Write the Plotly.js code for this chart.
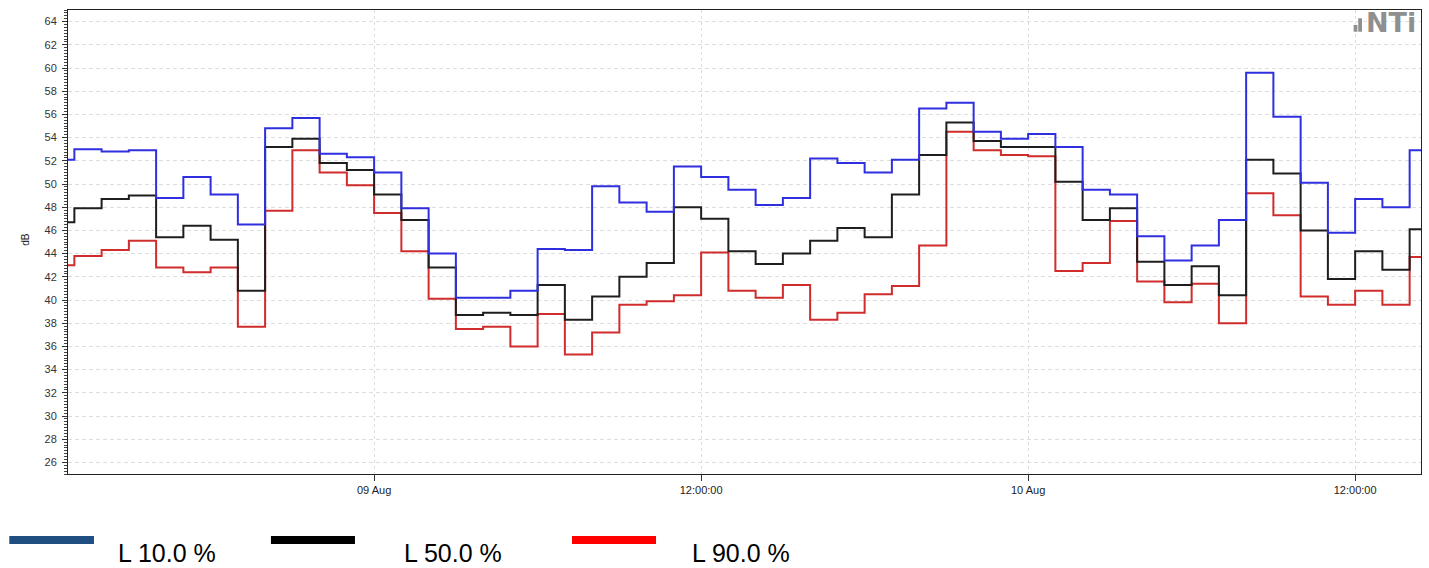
<!DOCTYPE html>
<html>
<head>
<meta charset="utf-8">
<script src="https://cdn.plot.ly/plotly-3.0.1.min.js"></script>
<style>
  html, body { margin: 0; padding: 0; background: #ffffff; }
  #chart { width: 1429px; height: 568px; }
</style>
</head>
<body>
<div id="chart"></div>
<script>
// ---- data (hourly values, first hour = 08 Aug 12:00) ----
const startHour = '2023-08-08T12:00:00Z';
const seriesNames = ['L 10.0 %', 'L 50.0 %', 'L 90.0 %'];
const L10 = [
  52.1, 53.0, 52.8, 52.9, 48.8, 50.6, 49.1, 46.5, 54.8, 55.7, 52.6, 52.3,
  51.0, 47.9, 44.0, 40.2, 40.2, 40.8, 44.4, 44.3, 49.8, 48.4, 47.6, 51.5,
  50.6, 49.5, 48.2, 48.8, 52.2, 51.8, 51.0, 52.1, 56.5, 57.0, 54.5, 53.9,
  54.3, 53.2, 49.5, 49.1, 45.5, 43.4, 44.7, 46.9, 59.6, 55.8, 50.1, 45.8,
  48.7, 48.0, 52.9
];
const L50 = [
  46.7, 47.9, 48.7, 49.0, 45.4, 46.4, 45.2, 40.8, 53.2, 53.9, 51.8, 51.2,
  49.1, 46.9, 42.8, 38.7, 38.9, 38.7, 41.3, 38.3, 40.3, 42.0, 43.2, 48.0,
  47.0, 44.2, 43.1, 44.0, 45.1, 46.2, 45.4, 49.1, 52.5, 55.3, 53.7, 53.2,
  53.2, 50.2, 46.9, 47.9, 43.3, 41.3, 42.9, 40.4, 52.1, 50.9, 46.0, 41.8,
  44.2, 42.6, 46.1
];
const L90 = [
  43.0, 43.8, 44.3, 45.1, 42.8, 42.4, 42.8, 37.7, 47.7, 52.9, 51.0, 49.9,
  47.5, 44.2, 40.1, 37.5, 37.7, 36.0, 38.8, 35.3, 37.2, 39.6, 39.9, 40.4,
  44.1, 40.8, 40.2, 41.3, 38.3, 38.9, 40.5, 41.2, 44.7, 54.5, 52.9, 52.5,
  52.4, 42.5, 43.2, 46.8, 41.6, 39.8, 41.4, 38.0, 49.2, 47.3, 40.3, 39.6,
  40.8, 39.6, 43.7
];
const xRange = ['2023-08-08 12:46', '2023-08-10 14:25'];
const xTickVals = ['2023-08-09 00:00', '2023-08-09 12:00', '2023-08-10 00:00', '2023-08-10 12:00'];
const xTickText = ['09 Aug', '12:00:00', '10 Aug', '12:00:00'];
const yAxisLabel = 'dB';
const logoText = 'NTi';

// ---- build ----
function hourStamps(n) {
  const t0 = Date.parse(startHour);
  const out = [];
  for (let i = 0; i < n; i++) {
    out.push(new Date(t0 + i * 3600000).toISOString().slice(0, 16).replace('T', ' '));
  }
  return out;
}
// each hourly value is held for its full hour: repeat the last value at the end of its hour
function held(vals) { return vals.concat([vals[vals.length - 1]]); }
const xs = hourStamps(L10.length + 1);

const lineColors = ['#2f2fe0', '#1e1e1e', '#d02c2c'];
const swatchColors = ['#1f4e80', '#000000', '#ff0000'];

const traces = [
  {x: xs, y: held(L90), name: seriesNames[2], color: lineColors[2]},
  {x: xs, y: held(L50), name: seriesNames[1], color: lineColors[1]},
  {x: xs, y: held(L10), name: seriesNames[0], color: lineColors[0]}
].map(t => ({
  type: 'scatter', mode: 'lines', x: t.x, y: t.y, name: t.name,
  line: {shape: 'hv', color: t.color, width: 2},
  hoverinfo: 'x+y+name'
}));

// legend swatches + labels (below the plot, drawn as shapes and annotations)
const swatchX = [[-0.0434, 0.0192], [0.150, 0.2121], [0.3725, 0.4346]];
const labelX = [0.0355, 0.2469, 0.4597];
const shapes = [];
const annotations = [];
for (let i = 0; i < 3; i++) {
  shapes.push({
    type: 'rect', xref: 'paper', yref: 'paper',
    x0: swatchX[i][0], x1: swatchX[i][1], y0: -0.1509, y1: -0.1336,
    fillcolor: swatchColors[i], line: {width: 0}
  });
  annotations.push({
    xref: 'paper', yref: 'paper', x: labelX[i], y: -0.170,
    xanchor: 'left', yanchor: 'middle', showarrow: false,
    text: seriesNames[i],
    font: {family: 'Liberation Sans, Arial, sans-serif', size: 25, color: '#000000'}
  });
}
// logo bars
shapes.push({type: 'rect', xref: 'paper', yref: 'paper', x0: 0.9502, x1: 0.9530, y0: 0.9532, y1: 0.9677, fillcolor: '#8f8f8f', line: {width: 0}});
shapes.push({type: 'rect', xref: 'paper', yref: 'paper', x0: 0.9536, x1: 0.9564, y0: 0.9532, y1: 0.9821, fillcolor: '#8f8f8f', line: {width: 0}});
annotations.push({
  xref: 'paper', yref: 'paper', x: 0.9978, y: 0.972, xanchor: 'right', yanchor: 'middle',
  showarrow: false, text: '<b>' + logoText + '</b>',
  font: {family: 'DejaVu Sans, sans-serif', size: 27, color: '#8f8f8f'}
});
// y axis title
annotations.push({
  xref: 'paper', yref: 'paper', x: -0.0310, y: 0.505, xanchor: 'center', yanchor: 'middle',
  showarrow: false, text: yAxisLabel, textangle: -90,
  font: {family: 'Liberation Sans, Arial, sans-serif', size: 10, color: '#222222'}
});

const layout = {
  width: 1429, height: 568,
  margin: {l: 68, r: 8, t: 10, b: 94, pad: 0},
  paper_bgcolor: '#ffffff', plot_bgcolor: '#ffffff',
  showlegend: false,
  xaxis: {
    type: 'date', range: xRange,
    tickmode: 'array', tickvals: xTickVals, ticktext: xTickText,
    ticks: 'outside', ticklen: 6, tickcolor: '#333333', tickwidth: 1,
    showline: true, linecolor: '#222222', linewidth: 1, mirror: true,
    showgrid: true, gridcolor: '#dedede', griddash: '3px,3px', gridwidth: 1,
    zeroline: false,
    tickfont: {family: 'Liberation Sans, Arial, sans-serif', size: 11, color: '#222222'}
  },
  yaxis: {
    range: [25, 65], tick0: 0, dtick: 2,
    ticks: 'outside', ticklen: 5, tickcolor: '#333333', tickwidth: 1,
    ticklabelstandoff: 3,
    minor: {dtick: 0.25, ticks: 'outside', ticklen: 3, tickcolor: '#444444', showgrid: false},
    showline: true, linecolor: '#222222', linewidth: 1, mirror: true,
    showgrid: true, gridcolor: '#dedede', griddash: '4px,3px', gridwidth: 1,
    zeroline: false,
    tickfont: {family: 'Liberation Sans, Arial, sans-serif', size: 11, color: '#333333'}
  },
  shapes: shapes,
  annotations: annotations
};

Plotly.newPlot('chart', traces, layout, {displayModeBar: false, staticPlot: true});
</script>
</body>
</html>
